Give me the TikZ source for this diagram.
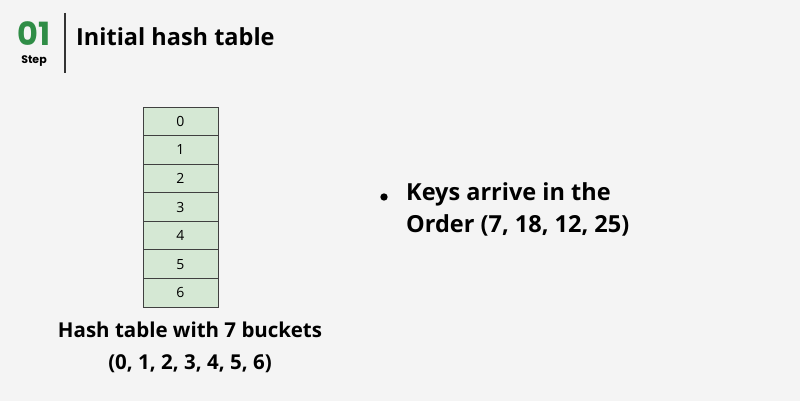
\documentclass[tikz,border=0pt]{standalone}
\usepackage{fontspec}
\setmainfont{Open Sans}
\newfontfamily\stepfont{Poppins}
\usetikzlibrary{positioning}
\definecolor{stepgreen}{HTML}{2F8D46}
\definecolor{cellgreen}{HTML}{D5E8D4}
\definecolor{bggray}{HTML}{F4F4F4}
\tikzset{
  bucket/.style={draw=black!75, line width=0.8pt, fill=cellgreen, minimum width=75pt, minimum height=28.57pt, inner sep=0pt, font=\fontsize{14}{16}\selectfont},
  caption/.style={font=\fontsize{20.5}{32}\selectfont\bfseries, align=center},
}
\begin{document}
\begin{tikzpicture}[x=1pt,y=-1pt]
				%draw background
				\fill[bggray] (0,0) rectangle (800,401);
				\useasboundingbox (0,0) rectangle (800,401);
				%draw step header
				\node[anchor=base, text=stepgreen, font=\stepfont\fontsize{32}{32}\selectfont\bfseries, inner sep=0pt, text depth=0pt] (stepnum) at (34,46) {01};
				\node[anchor=base, font=\stepfont\fontsize{11}{11}\selectfont\bfseries, inner sep=0pt, text height=7pt] (steplabel) at (34,64) {Step};
				\coordinate (bartop) at (65,13);
				\coordinate (barbot) at (65,73);
				\draw[line width=1.2pt, black!80] (bartop) -- (barbot);
				\node[anchor=west, font=\fontsize{23.5}{24}\selectfont\bfseries, inner sep=0pt] (title) at (76,37) {Initial hash table};
				%draw buckets
				\foreach \i in {0,...,6}{
					\node[bucket] (b\i) at (180.5,{121.3+28.57*\i}) {\i};
				}
				%draw captions
				\node[caption] (cap) at (190,347) {Hash table with 7 buckets\\(0, 1, 2, 3, 4, 5, 6)};
				\node[anchor=north west, font=\fontsize{23.5}{32}\selectfont\bfseries, align=left, inner sep=0pt] (keys) at (406,182) {Keys arrive in the\\Order (7, 18, 12, 25)};
				\node[circle, fill=black, inner sep=2.6pt] (dot) at (384,197) {};
\end{tikzpicture}
\end{document}
